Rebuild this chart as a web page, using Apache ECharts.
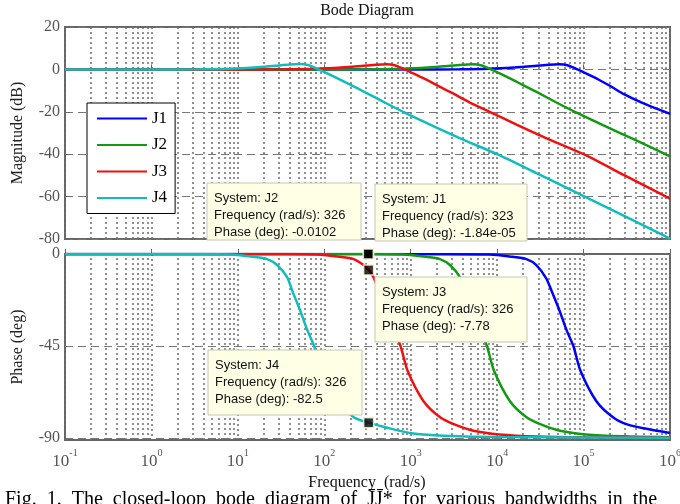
<!DOCTYPE html>
<html>
<head>
<meta charset="utf-8">
<script src="https://cdn.jsdelivr.net/npm/echarts@6/dist/echarts.min.js"></script>
<style>html,body{margin:0;padding:0;background:#fff}#c{width:680px;height:504px}</style>
</head>
<body>
<div id="c"></div>
<script>
// ---- data ----
const seriesNames = ['J1', 'J2', 'J3', 'J4'];
const seriesColors = ['#0000ff', '#129a12', '#f01010', '#10bcbc'];

// magnitude (dB) vs frequency (rad/s)
const magJ1Freq = [0.1, 1000, 3650, 8120, 15800, 26900, 40200, 52500, 64900, 74200, 84800, 102000, 126000, 152000, 199000, 297000, 479000, 1e6];
const magJ1 = [0, 0, 0.05, 0.3, 0.9, 1.6, 2.2, 2.4, 2.0, 1.1, 0, -1.5, -3.3, -5, -7.6, -11.8, -15.8, -21];
const magJ2Freq = [0.1, 100, 365, 812, 1580, 2690, 4020, 5250, 6490, 7420, 8480, 10200, 12600, 15200, 19900, 29700, 47900, 81700, 167700, 373100, 1e6];
const magJ2 = [0, 0, 0.05, 0.3, 0.9, 1.6, 2.2, 2.4, 2.0, 1.1, 0, -1.5, -3.3, -4.9, -7.4, -11, -15.5, -20.3, -26.3, -32.8, -41];
const magJ3Freq = [0.1, 10, 36.5, 81.2, 158, 269, 402, 525, 649, 742, 848, 1020, 1260, 1520, 1990, 2970, 4790, 8170, 16770, 37310, 1e5, 314500, 1e6];
const magJ3 = [0, 0, 0.05, 0.3, 0.9, 1.6, 2.2, 2.4, 2.0, 1.1, 0, -1.5, -3.3, -4.8, -7.4, -11, -15.5, -20, -26, -32.5, -40, -50.5, -61];
const magJ4Freq = [0.1, 1, 3.65, 8.12, 15.8, 26.9, 40.2, 52.5, 64.9, 74.2, 84.8, 102, 126, 152, 199, 297, 479, 817, 1677, 3731, 1e4, 31450, 98950, 319600, 1e6];
const magJ4 = [0, 0, 0.05, 0.3, 0.9, 1.7, 2.3, 2.5, 2.1, 1.2, 0, -1.4, -3.2, -4.8, -7.2, -10.8, -15.2, -20, -26, -32.5, -40, -49.8, -59.7, -69.8, -79.8];

// phase (deg) vs frequency (rad/s)
const phJ1Freq = [0.1, 323, 8120, 15000, 21800, 28400, 37100, 43500, 52500, 63200, 76200, 91800, 140700, 221000, 326000, 533000, 1e6];
const phJ1 = [0, 0, -0.3, -1.4, -2.5, -5.4, -12, -19, -27.5, -37, -45, -57, -72, -80, -83.5, -85.5, -87.6];
const phJ2Freq = [0.1, 326, 812, 1500, 2180, 2840, 3710, 4350, 5250, 6320, 7620, 9180, 14070, 22100, 32600, 53300, 106600, 285800, 1e6];
const phJ2 = [0, -0.01, -0.3, -1.4, -2.5, -5.4, -11.3, -19, -27.5, -37, -45, -57, -72, -80, -83.5, -86.5, -88.3, -89.2, -89.6];
const phJ3Freq = [0.1, 36.5, 81.2, 150, 218, 284, 326, 371, 435, 525, 632, 762, 918, 1407, 2210, 3260, 5330, 10660, 28580, 108400, 1e6];
const phJ3 = [0, 0, -0.3, -1.4, -2.5, -5.4, -7.78, -11.3, -19, -27.5, -37, -45, -57, -72, -80, -83.5, -86.5, -88.3, -89.3, -89.7, -89.9];
const phJ4Freq = [0.1, 3.65, 8.12, 15.0, 21.8, 28.4, 37.1, 43.5, 52.5, 63.2, 76.2, 91.8, 140.7, 221, 326, 533, 1066, 2858, 10840, 1e6];
const phJ4 = [0, 0, -0.3, -1.4, -2.5, -5.4, -11.3, -19, -27.5, -37, -45, -57, -72, -80, -82.5, -85, -87.8, -89, -89.5, -89.9];

// data tips
const tipSystem = ['J2', 'J1', 'J3', 'J4'];
const tipFreq = [326, 323, 326, 326];
const tipPhase = [-0.0102, -1.84e-5, -7.78, -82.5];
const tipPhaseLabel = ['-0.0102', '-1.84e-05', '-7.78', '-82.5'];

// axis ticks
const phaseTicks = [0, -45, -90];
const minorMult = [2, 3, 4, 5, 6, 7, 8, 9];
const decades = [-1, 0, 1, 2, 3, 4, 5];

// ---- layout / style ----
const tipBoxes = [[207, 183, 154, 57], [375, 184, 152, 57], [375, 277, 152, 65], [208, 350, 154, 65]];
const serif = 'Liberation Serif';
const sans = 'Liberation Sans';
const zip = (a, b) => a.map((v, i) => [v, b[i]]);

const minorVals = [];
decades.forEach(d => minorMult.forEach(m => minorVals.push(m * Math.pow(10, d))));

const dotted = { type: [2, 3], color: '#6e6e6e', width: 1.5 };
const dashed = { type: [8, 5], color: '#777', width: 1.2 };

const chart = echarts.init(document.getElementById('c'), null, { renderer: 'canvas' });

const xBase = (gi, showLabel) => ({
  type: 'log', logBase: 10, min: 0.1, max: 1e6, gridIndex: gi, splitNumber: 7,
  axisLine: { show: false },
  axisTick: { show: true, inside: true, length: 5, lineStyle: { color: '#666', width: 1 } },
  axisLabel: showLabel ? {
    show: true, margin: 8, showMinLabel: true, showMaxLabel: true, hideOverlap: false,
    formatter: v => '{b|10}{e|' + Math.round(Math.log10(v)) + '}',
    rich: {
      b: { fontFamily: serif, fontSize: 17, color: '#555', lineHeight: 22, verticalAlign: 'bottom' },
      e: { fontFamily: serif, fontSize: 10, color: '#555', lineHeight: 10, verticalAlign: 'top' }
    }
  } : { show: false },
  splitLine: { show: true, lineStyle: dotted }
});

const helper = (gi, extra) => ({
  type: 'line', xAxisIndex: gi, yAxisIndex: gi, data: [], z: 1, silent: true,
  markLine: {
    silent: true, symbol: ['none', 'none'], label: { show: false }, animation: false, z: 1,
    lineStyle: dotted,
    data: minorVals.map(v => ({ xAxis: v })).concat(extra || [])
  }
});

const series = [helper(0), helper(1, [{ yAxis: -45, lineStyle: dashed }, { yAxis: -90, lineStyle: dashed }])];
const magF = [magJ1Freq, magJ2Freq, magJ3Freq, magJ4Freq];
const magV = [magJ1, magJ2, magJ3, magJ4];
const phF = [phJ1Freq, phJ2Freq, phJ3Freq, phJ4Freq];
const phV = [phJ1, phJ2, phJ3, phJ4];
seriesNames.forEach((n, i) => {
  const common = {
    type: 'line', name: n, symbol: 'none', showSymbol: false, smooth: 0.25, z: 3,
    lineStyle: { color: seriesColors[i], width: 2.5 }, itemStyle: { color: seriesColors[i] }
  };
  series.push(Object.assign({}, common, { xAxisIndex: 0, yAxisIndex: 0, data: zip(magF[i], magV[i]) }));
  series.push(Object.assign({}, common, { xAxisIndex: 1, yAxisIndex: 1, data: zip(phF[i], phV[i]) }));
});
series.push({
  type: 'scatter', name: 'tips', xAxisIndex: 1, yAxisIndex: 1, z: 6, silent: true,
  symbol: 'rect', symbolSize: 10,
  itemStyle: { color: '#000', borderColor: '#ffffd8', borderWidth: 1.5 },
  data: zip(tipFreq, tipPhase)
});

const caption = 'Fig. 1. The closed-loop bode diagram of J\u0304J\u0304* for various bandwidths in the';
const texts = [
  { type: 'text', x: 367, y: 3, z: 50, style: { text: 'Bode Diagram', align: 'center', verticalAlign: 'top', fontFamily: serif, fontSize: 16, fill: '#111' } },
  { type: 'text', x: 367, y: 475, z: 50, style: { text: 'Frequency  (rad/s)', align: 'center', verticalAlign: 'top', fontFamily: serif, fontSize: 16, fill: '#111' } },
  { type: 'text', x: 5, y: 490, z: 50, style: { text: caption.split(' ').join('\u2002'), align: 'left', verticalAlign: 'top', fontFamily: serif, fontSize: 20, fill: '#000' } }
];
tipBoxes.forEach((b, i) => {
  texts.push({
    type: 'group', x: b[0], y: b[1], z: 100,
    children: [
      { type: 'rect', shape: { x: 0, y: 0, width: b[2], height: b[3] }, style: { fill: '#ffffe6', stroke: '#c6c6b4', lineWidth: 1 }, z: 100 },
      { type: 'text', x: 7, y: 6.5, z: 101, style: {
        text: 'System: ' + tipSystem[i] + '\nFrequency (rad/s): ' + tipFreq[i] + '\nPhase (deg): ' + tipPhaseLabel[i],
        fontFamily: sans, fontSize: 13, lineHeight: 17, fill: '#111', verticalAlign: 'top', align: 'left' } }
    ]
  });
});

const yLabel = { fontFamily: serif, fontSize: 16, color: '#555', margin: 5 };
const yName = { fontFamily: serif, fontSize: 16, color: '#222' };

chart.setOption({
  animation: false,
  backgroundColor: '#fff',
  grid: [
    { left: 65, top: 27, width: 605, height: 212, show: true, borderColor: '#666', borderWidth: 2, backgroundColor: '#fff', containLabel: false, outerBoundsMode: 'none' },
    { left: 65, top: 254, width: 605, height: 186, show: true, borderColor: '#666', borderWidth: 2, backgroundColor: '#fff', containLabel: false, outerBoundsMode: 'none' }
  ],
  xAxis: [xBase(0, false), xBase(1, true)],
  yAxis: [
    { type: 'value', gridIndex: 0, min: -80, max: 20, interval: 20,
      name: 'Magnitude (dB)', nameLocation: 'middle', nameGap: 39, nameTextStyle: yName,
      axisLine: { show: false }, axisTick: { show: true, inside: true, length: 5, lineStyle: { color: '#666' } },
      axisLabel: yLabel, splitLine: { show: true, lineStyle: dashed } },
    { type: 'value', gridIndex: 1, min: -91, max: 0,
      name: 'Phase (deg)', nameLocation: 'middle', nameGap: 39, nameTextStyle: yName,
      axisLine: { show: false }, axisTick: { show: true, inside: true, length: 5, customValues: phaseTicks, lineStyle: { color: '#666' } },
      axisLabel: Object.assign({ customValues: phaseTicks }, yLabel), splitLine: { show: false } }
  ],
  legend: {
    data: seriesNames.map(n => ({ name: n, icon: 'path://M0,0H50V2H0Z' })),
    orient: 'vertical', left: 87, top: 103, symbolKeepAspect: true,
    backgroundColor: '#fff', borderColor: '#000', borderWidth: 1, borderRadius: 0,
    padding: [7, 8, 7, 10], itemWidth: 50, itemHeight: 14, itemGap: 9.5,
    textStyle: { fontFamily: serif, fontSize: 17, color: '#000' }
  },
  series: series,
  graphic: texts
});
</script>
</body>
</html>
